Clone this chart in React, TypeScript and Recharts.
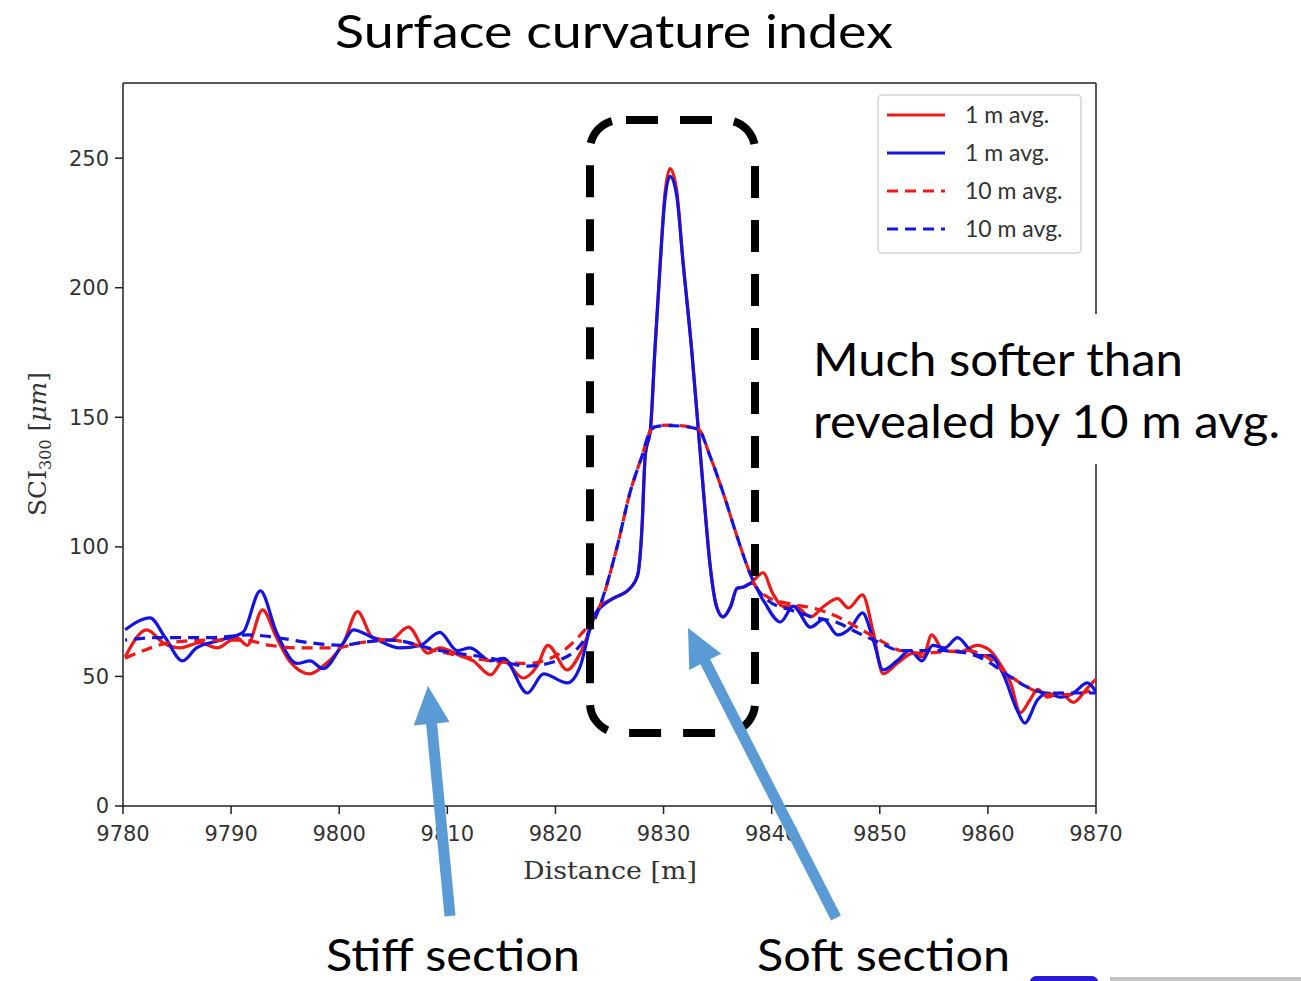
import { LineChart, Line, XAxis, YAxis, ReferenceLine } from "recharts";

// distance [m] and SCI300 [µm]
const redSolidDist = [9780.2, 9782.2, 9783.7, 9785.3, 9787.1, 9788.7, 9790.5, 9791.5, 9792.9, 9794.2, 9795.4, 9797.3, 9798.5, 9800.4, 9801.7, 9803.1, 9804.7, 9806.4, 9808.2, 9809.3, 9811.2, 9812.4, 9814.0, 9815.2, 9817.0, 9818.3, 9819.3, 9821.1, 9822.3, 9824.1, 9825.3, 9826.9, 9827.6, 9828.0, 9828.3, 9828.8, 9829.2, 9829.7, 9830.1, 9830.6, 9831.2, 9831.8, 9832.6, 9833.2, 9833.7, 9834.3, 9834.9, 9835.5, 9836.2, 9836.8, 9837.4, 9838.2, 9839.2, 9840.1, 9841.1, 9842.2, 9843.6, 9844.8, 9846.1, 9847.1, 9848.4, 9849.4, 9850.3, 9851.6, 9853.1, 9854.0, 9854.8, 9855.9, 9857.4, 9859.0, 9860.2, 9861.1, 9862.1, 9863.0, 9863.9, 9864.6, 9865.5, 9866.7, 9867.9, 9869.2, 9870];
const redSolidSci = [57.5, 68, 63, 61, 63, 61, 65, 62, 75.7, 65, 56, 51, 54, 63, 75, 65, 64, 69, 59, 61, 58, 56, 50.6, 56, 49.4, 54, 62, 52.5, 59, 77, 80, 84, 89, 107, 135, 146, 176, 210, 235, 246, 238, 210, 176, 146, 121, 93, 77, 73, 77, 84, 84.5, 86.5, 90, 82, 77, 77, 73, 77, 80, 76.4, 81.5, 67, 51, 55, 59, 57.5, 66, 60, 59.5, 62, 60, 55, 47.5, 36, 41, 45, 42, 43.6, 40, 45.5, 49];

const blueSolidDist = [9780.2, 9782.5, 9783.9, 9785.5, 9786.8, 9789.0, 9791.1, 9792.7, 9794.2, 9796.1, 9797.3, 9798.5, 9800.4, 9801.3, 9803.1, 9805.6, 9807.5, 9809.3, 9810.9, 9812.1, 9814.0, 9815.2, 9817.4, 9818.9, 9821.1, 9822.3, 9823.5, 9824.3, 9825.3, 9826.9, 9827.6, 9828.0, 9828.3, 9828.8, 9829.2, 9829.7, 9830.1, 9830.6, 9831.2, 9831.8, 9832.6, 9833.2, 9833.7, 9834.3, 9834.9, 9835.5, 9836.2, 9836.8, 9837.4, 9838.2, 9839.2, 9840.8, 9842.0, 9843.6, 9844.8, 9846.1, 9847.3, 9848.4, 9849.4, 9850.3, 9851.6, 9852.8, 9853.9, 9854.9, 9856.0, 9857.2, 9858.4, 9859.3, 9860.2, 9861.4, 9862.7, 9863.4, 9864.6, 9865.5, 9866.7, 9867.9, 9869.2, 9870];
const blueSolidSci = [68, 72.6, 65, 56, 61, 64, 67, 83, 67, 55, 56, 53, 63, 68, 65, 61, 62, 67, 60, 61, 56, 57, 43.6, 51, 47.5, 54, 73, 77, 80, 84, 89, 107, 135, 146, 176, 210, 233, 243, 236, 210, 176, 146, 121, 93, 77, 73, 77, 84, 84.5, 86, 79.5, 71, 77, 69, 72, 66, 68.7, 74.5, 64, 52.5, 56, 60, 56, 62, 61, 65, 60, 58, 58, 51, 37, 32, 41, 43.6, 42, 43.6, 47.5, 44];

const redAvgDist = [9780.2, 9781.9, 9784.3, 9788.0, 9791.1, 9793.6, 9796.1, 9799.8, 9801.9, 9804.7, 9809.3, 9814.0, 9817.4, 9819.8, 9821.6, 9822.3, 9824.1, 9825.7, 9826.9, 9828.0, 9828.8, 9829.4, 9830.6, 9831.8, 9833.2, 9834.3, 9835.5, 9836.8, 9837.7, 9838.5, 9839.6, 9841.7, 9843.8, 9846.1, 9847.9, 9850.0, 9851.9, 9854.0, 9855.9, 9858.1, 9859.9, 9861.8, 9863.6, 9865.5, 9867.6, 9870];
const redAvgSci = [57, 60, 63, 64, 64, 62, 61, 61, 63, 64, 59.5, 56, 55, 57.5, 63, 66, 77, 100, 121, 135, 145, 146.7, 147, 146.7, 145.6, 135, 121, 104, 93, 85, 80.7, 78, 76.4, 73, 69, 64, 60, 59, 59.5, 60, 57.5, 51, 46, 43, 43, 45];

const blueAvgDist = [9780.2, 9783.4, 9788.0, 9791.7, 9794.2, 9797.3, 9800.4, 9801.9, 9804.7, 9809.3, 9814.0, 9817.4, 9819.8, 9822.3, 9824.1, 9825.7, 9826.9, 9828.0, 9828.8, 9829.4, 9830.6, 9831.8, 9833.2, 9834.3, 9835.5, 9836.8, 9837.7, 9838.5, 9839.6, 9841.7, 9843.8, 9846.1, 9847.9, 9850.0, 9851.9, 9855.6, 9858.1, 9859.9, 9861.8, 9863.6, 9865.5, 9867.6, 9870];
const blueAvgSci = [64, 65, 65, 66, 65, 63, 62, 63, 64, 60, 57, 54, 55.6, 62, 77, 100, 121, 135, 145, 146.5, 146.8, 146.5, 145.4, 135, 121, 104, 93, 85, 79.5, 75.7, 73, 70.7, 67, 63, 60, 60, 59, 56, 50.6, 46, 43.6, 43.6, 43.6];

const xTicks = [9780, 9790, 9800, 9810, 9820, 9830, 9840, 9850, 9860, 9870];
const yTicks = [0, 50, 100, 150, 200, 250];
const legendLabels = ["1 m avg.", "1 m avg.", "10 m avg.", "10 m avg."];

const RED = "#ee1a1a";
const BLUE = "#1414e0";
const ARROW = "#5b9bd5";
const CALIBRI = "Lato, 'Open Sans', sans-serif";

const toRows = (xs: number[], ys: number[]) => xs.map((x, i) => ({ x, v: ys[i] }));

const tickStyle = { fontFamily: "'DejaVu Sans', sans-serif", fontSize: 21, fill: "#333" };

// block arrow polygon from tail to tip
function arrow(x1: number, y1: number, x2: number, y2: number) {
  const len = Math.hypot(x2 - x1, y2 - y1);
  const ux = (x2 - x1) / len;
  const uy = (y2 - y1) / len;
  const px = -uy;
  const py = ux;
  const head = 38;
  const hw = 18;
  const sw = 5.5;
  const bx = x2 - ux * head;
  const by = y2 - uy * head;
  const pts = [
    [x1 + px * sw, y1 + py * sw],
    [bx + px * sw, by + py * sw],
    [bx + px * hw, by + py * hw],
    [x2, y2],
    [bx - px * hw, by - py * hw],
    [bx - px * sw, by - py * sw],
    [x1 - px * sw, y1 - py * sw],
  ];
  return pts.map((p) => p.join(",")).join(" ");
}

export default function App() {
  return (
    <div style={{ position: "absolute", left: 0, top: 0, width: 1301, height: 981, background: "#fff", overflow: "hidden" }}>
      <LineChart width={1301} height={981} margin={{ top: 83, right: 205, bottom: 145, left: 63 }}>
        <XAxis
          type="number"
          dataKey="x"
          domain={[9780, 9870]}
          ticks={xTicks}
          allowDataOverflow
          height={30}
          tickSize={8}
          tickMargin={12}
          tick={tickStyle}
          axisLine={{ stroke: "#222", strokeWidth: 1.5 }}
          tickLine={{ stroke: "#222", strokeWidth: 1.5 }}
        />
        <YAxis
          type="number"
          domain={[0, 279]}
          ticks={yTicks}
          allowDataOverflow
          width={60}
          tickSize={8}
          tickMargin={6}
          tick={tickStyle}
          axisLine={{ stroke: "#222", strokeWidth: 1.5 }}
          tickLine={{ stroke: "#222", strokeWidth: 1.5 }}
        />
        <ReferenceLine y={279} stroke="#222" strokeWidth={1.5} />
        <ReferenceLine x={9870} stroke="#222" strokeWidth={1.5} />
        <Line data={toRows(redSolidDist, redSolidSci)} dataKey="v" type="monotone" stroke={RED} strokeWidth={3.2} dot={false} isAnimationActive={false} />
        <Line data={toRows(blueSolidDist, blueSolidSci)} dataKey="v" type="monotone" stroke={BLUE} strokeWidth={3.2} dot={false} isAnimationActive={false} />
        <Line data={toRows(redAvgDist, redAvgSci)} dataKey="v" type="monotone" stroke={RED} strokeWidth={3.2} strokeDasharray="11 7" dot={false} isAnimationActive={false} />
        <Line data={toRows(blueAvgDist, blueAvgSci)} dataKey="v" type="monotone" stroke={BLUE} strokeWidth={3.2} strokeDasharray="11 7" strokeDashoffset={9} dot={false} isAnimationActive={false} />
      </LineChart>

      <svg width={1301} height={981} style={{ position: "absolute", left: 0, top: 0, pointerEvents: "none" }}>
        <text x={614} y={48} textAnchor="middle" fontFamily={CALIBRI} fontSize={47} fill="#000" textLength={558} lengthAdjust="spacingAndGlyphs">
          Surface curvature index
        </text>

        <text x={610} y={879} textAnchor="middle" fontFamily="'DejaVu Serif', serif" fontSize={25} fill="#333" textLength={174} lengthAdjust="spacingAndGlyphs">
          Distance [m]
        </text>
        <text transform="translate(46,444) rotate(-90)" textAnchor="middle" fontFamily="'DejaVu Serif', serif" fontSize={25} fill="#333">
          SCI<tspan fontSize={16} dy={5}>300</tspan>
          <tspan dy={-5}> [</tspan>
          <tspan fontStyle="italic">μm</tspan>]
        </text>

        {/* legend */}
        <rect x={878} y={95} width={203} height={158} rx={4} fill="#fff" fillOpacity={0.9} stroke="#d4d4d4" strokeWidth={1.5} />
        {legendLabels.map((lab, i) => {
          const y = 115 + i * 38;
          const col = i % 2 === 0 ? RED : BLUE;
          return (
            <g key={i}>
              <line x1={887} x2={945} y1={y} y2={y} stroke={col} strokeWidth={3.2} strokeDasharray={i >= 2 ? "11 7" : undefined} />
              <text x={965} y={y + 8} fontFamily={CALIBRI} fontSize={23} fill="#333">
                {lab}
              </text>
            </g>
          );
        })}

        {/* box around the soft zone */}
        <rect x={590} y={120} width={165} height={613} rx={30} fill="none" stroke="#000" strokeWidth={8} strokeDasharray="32 22" strokeDashoffset={-6} />

        {/* annotation */}
        <rect x={800} y={314} width={501} height={150} fill="#fff" />
        <text x={813} y={376} fontFamily={CALIBRI} fontSize={46} fill="#000" textLength={370} lengthAdjust="spacingAndGlyphs">
          Much softer than
        </text>
        <text x={813} y={438} fontFamily={CALIBRI} fontSize={46} fill="#000" textLength={467} lengthAdjust="spacingAndGlyphs">
          revealed by 10 m avg.
        </text>

        {/* arrows */}
        <polygon points={arrow(450, 916, 428, 686)} fill={ARROW} />
        <polygon points={arrow(836, 918, 688, 628)} fill={ARROW} />

        <text x={326} y={971} fontFamily={CALIBRI} fontSize={45} fill="#000" textLength={254} lengthAdjust="spacingAndGlyphs">
          Stiff section
        </text>
        <text x={757} y={971} fontFamily={CALIBRI} fontSize={45} fill="#000" textLength={253} lengthAdjust="spacingAndGlyphs">
          Soft section
        </text>

        <rect x={1030} y={976} width={68} height={14} rx={6} fill="#2a1ad6" />
        <rect x={1110} y={977} width={191} height={10} fill="#c4c4c4" />
      </svg>
    </div>
  );
}
